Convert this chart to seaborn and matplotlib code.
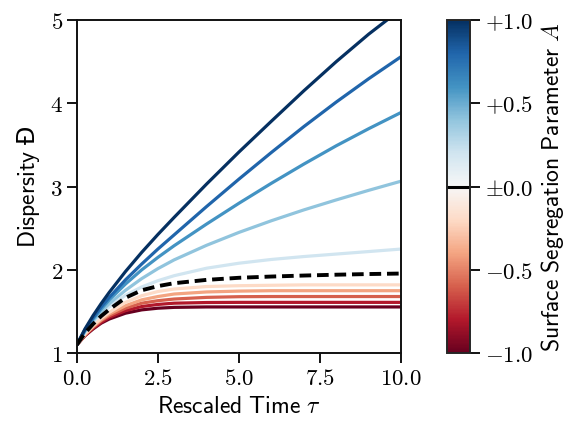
import numpy as np
import pandas as pd
import matplotlib
matplotlib.use("Agg")
import matplotlib.pyplot as plt
import seaborn as sns

# rescaled time grid shared by all curves
tau = [0, 0.25, 0.5, 0.75, 1, 1.5, 2, 2.5, 3, 4, 5, 6, 7, 8, 9, 10]

# dispersity for each surface segregation parameter A
disp = {
    1.0:  [1.10, 1.29, 1.45, 1.595, 1.73, 1.98, 2.21, 2.425, 2.63, 3.03, 3.415, 3.785, 4.15, 4.50, 4.83, 5.13],
    0.8:  [1.10, 1.28, 1.425, 1.555, 1.67, 1.88, 2.07, 2.25, 2.42, 2.76, 3.09, 3.41, 3.72, 4.015, 4.295, 4.56],
    0.6:  [1.10, 1.27, 1.41, 1.53, 1.64, 1.83, 2.00, 2.15, 2.29, 2.55, 2.80, 3.04, 3.27, 3.49, 3.695, 3.89],
    0.4:  [1.10, 1.26, 1.39, 1.50, 1.595, 1.755, 1.895, 2.015, 2.12, 2.295, 2.45, 2.59, 2.72, 2.84, 2.955, 3.065],
    0.2:  [1.10, 1.25, 1.37, 1.47, 1.555, 1.695, 1.795, 1.87, 1.93, 2.02, 2.08, 2.125, 2.16, 2.19, 2.22, 2.25],
    -0.2: [1.10, 1.23, 1.33, 1.42, 1.49, 1.61, 1.69, 1.74, 1.77, 1.80, 1.81, 1.815, 1.82, 1.82, 1.82, 1.82],
    -0.4: [1.10, 1.22, 1.32, 1.40, 1.47, 1.57, 1.64, 1.68, 1.71, 1.735, 1.745, 1.75, 1.75, 1.75, 1.75, 1.75],
    -0.6: [1.10, 1.22, 1.31, 1.39, 1.45, 1.54, 1.60, 1.63, 1.65, 1.67, 1.678, 1.68, 1.68, 1.68, 1.68, 1.68],
    -0.8: [1.10, 1.21, 1.30, 1.37, 1.43, 1.51, 1.56, 1.585, 1.60, 1.608, 1.61, 1.61, 1.61, 1.61, 1.61, 1.61],
    -1.0: [1.10, 1.21, 1.29, 1.36, 1.41, 1.48, 1.52, 1.54, 1.55, 1.555, 1.555, 1.555, 1.555, 1.555, 1.555, 1.555],
}
# A = 0 reference curve (dashed)
disp_zero = [1.10, 1.24, 1.35, 1.445, 1.525, 1.665, 1.755, 1.805, 1.84, 1.88, 1.905, 1.92, 1.932, 1.942, 1.95, 1.956]

xticks = [0, 2.5, 5, 7.5, 10]
yticks = [1, 2, 3, 4, 5]
cbar_ticks = [-1.0, -0.5, 0.0, 0.5, 1.0]
cbar_labels = [r"$-1.0$", r"$-0.5$", r"$\pm0.0$", r"$+0.5$", r"$+1.0$"]

sns.set_style("ticks")
plt.rcParams["font.family"] = ["DejaVu Sans"]
plt.rcParams["mathtext.fontset"] = "cm"
plt.rcParams["text.color"] = "black"
plt.rcParams["axes.labelcolor"] = "black"
plt.rcParams["xtick.color"] = "black"
plt.rcParams["ytick.color"] = "black"

rows = []
for a, vals in disp.items():
    for t, d in zip(tau, vals):
        rows.append({"tau": t, "D": d, "A": a})
df = pd.DataFrame(rows)

fig = plt.figure(figsize=(5.69, 4.25), dpi=100)
ax = fig.add_axes([0.135, 0.169, 0.570, 0.784])
cax = fig.add_axes([0.786, 0.169, 0.040, 0.784])

sns.lineplot(data=df, x="tau", y="D", hue="A", palette="RdBu", hue_norm=(-1, 1),
             linewidth=2.3, legend=False, ax=ax, estimator=None, sort=True)
ax.plot(tau, disp_zero, color="black", linestyle=(0, (3.0, 1.5)), linewidth=2.8)

ax.set_xlim(0, 10)
ax.set_ylim(1, 5)
ax.set_xticks(xticks)
ax.set_xticklabels([r"$%.1f$" % v for v in xticks])
ax.set_yticks(yticks)
ax.set_yticklabels([r"$%d$" % v for v in yticks])
ax.tick_params(labelsize=16.5, width=1.3, length=7, pad=3)
for s in ax.spines.values():
    s.set_linewidth(1.4)
    s.set_color("#111111")
ax.set_xlabel(r"$\mathsf{Rescaled\ Time}\ \tau$", fontsize=17, labelpad=3)
ax.set_ylabel(r"$\mathsf{Dispersity}$ Đ", fontsize=17, labelpad=6)

sm = plt.cm.ScalarMappable(cmap="RdBu", norm=plt.Normalize(-1, 1))
cb = fig.colorbar(sm, cax=cax)
cb.set_ticks(cbar_ticks)
cb.set_ticklabels(cbar_labels)
cb.ax.tick_params(labelsize=16.5, width=1.3, length=7, pad=4)
cb.outline.set_linewidth(1.4)
cax.axhline(0, color="black", linewidth=2.2)
cb.set_label(r"$\mathsf{Surface\ Segregation\ Parameter}\ A$", fontsize=17, labelpad=4)

fig.savefig("out.png", dpi=100)
